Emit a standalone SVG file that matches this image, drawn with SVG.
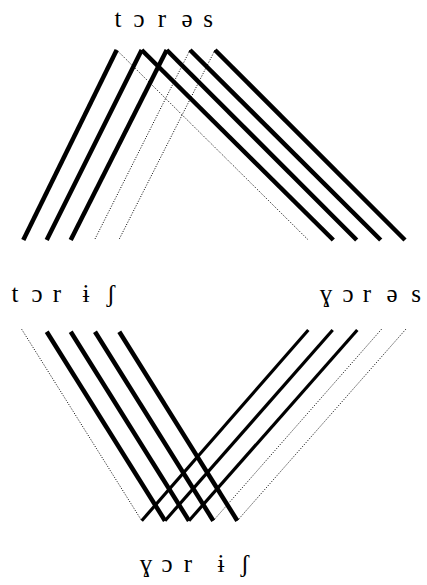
<svg xmlns="http://www.w3.org/2000/svg" width="427" height="585" viewBox="0 0 427 585">
<style>
.t{font-family:"Liberation Serif","DejaVu Serif",serif;font-size:25px;fill:#000;text-anchor:middle}
.k{stroke:#000;stroke-width:4.5;fill:none}
.n{stroke:#000;stroke-width:3.2;fill:none}
.d{stroke:#000;stroke-width:1;stroke-dasharray:1 1.6;fill:none}
</style>
<rect width="427" height="585" fill="#fff"/>
<g id="connectors">
<line class="d" x1="116.7" y1="50" x2="308.3" y2="240"/>
<line class="d" x1="190" y1="50" x2="95" y2="239"/>
<line class="d" x1="215" y1="50" x2="119.3" y2="239"/>
<line class="k" x1="116.7" y1="50" x2="23.3" y2="240"/>
<line class="k" x1="141.7" y1="50" x2="46.7" y2="240"/>
<line class="k" x1="166.7" y1="50" x2="70.7" y2="240"/>
<line class="k" x1="141.7" y1="50" x2="333.3" y2="240"/>
<line class="k" x1="166.7" y1="50" x2="356.7" y2="240"/>
<line class="k" x1="190" y1="50" x2="380.7" y2="240"/>
<line class="k" x1="215" y1="50" x2="405" y2="240"/>
<line class="d" x1="21.7" y1="329.3" x2="141.7" y2="520.7"/>
<line class="d" x1="381.7" y1="329" x2="213.3" y2="520.7"/>
<line class="d" x1="406" y1="329" x2="237.3" y2="520.7"/>
<line class="n" x1="308.3" y1="330" x2="141.7" y2="520.7"/>
<line class="n" x1="332.7" y1="330" x2="165" y2="520.7"/>
<line class="n" x1="357.3" y1="330" x2="189" y2="520.7"/>
<line class="k" x1="46.7" y1="331.7" x2="165" y2="520.7"/>
<line class="k" x1="70.7" y1="331.7" x2="189" y2="520.7"/>
<line class="k" x1="95" y1="331.7" x2="213.3" y2="520.7"/>
<line class="k" x1="119.3" y1="331.7" x2="237.3" y2="520.7"/>
</g>
<g id="top"><text class="t" x="118 128 139 150 162 174 187 197 208" y="27">t ɔ r ə s</text></g>
<g id="left"><text class="t" x="15 26 37 47 57 71 86 98 111" y="302">t ɔ r ɨ ʃ</text></g>
<g id="right"><text class="t" x="326 337 348 357 367 380 392 404 416" y="302">ɣ ɔ r ə s</text></g>
<g id="bottom"><text class="t" x="146 156 167 177 188 204 221 233 245" y="572">ɣ ɔ r ɨ ʃ</text></g>
</svg>
